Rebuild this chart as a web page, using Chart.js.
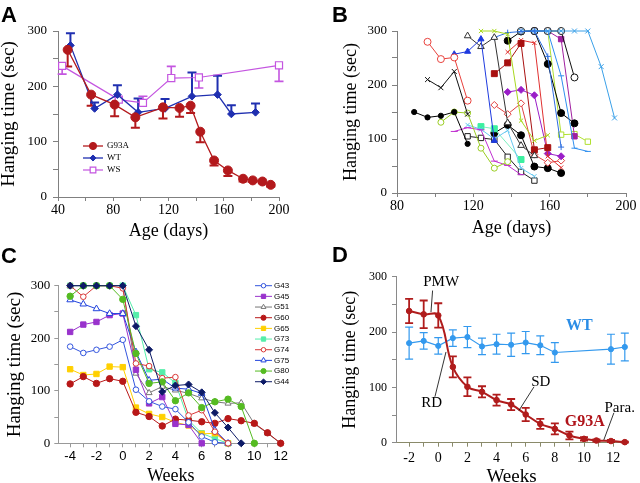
<!DOCTYPE html>
<html><head><meta charset="utf-8">
<script src="https://cdn.jsdelivr.net/npm/chart.js@4.4.1/dist/chart.umd.min.js"></script>
<style>
html,body{margin:0;padding:0;background:#fff;}
body{width:640px;height:483px;position:relative;overflow:hidden;}
canvas{position:absolute;}
.pl{position:absolute;font-family:"Liberation Sans",Arial,sans-serif;font-weight:bold;font-size:22px;line-height:22px;color:#000;}
</style></head><body>
<canvas id="cA" width="320" height="240" style="left:0;top:0"></canvas>
<canvas id="cB" width="320" height="240" style="left:320px;top:0"></canvas>
<canvas id="cC" width="320" height="243" style="left:0;top:240px"></canvas>
<canvas id="cD" width="320" height="243" style="left:320px;top:240px"></canvas>
<div class="pl" style="left:1px;top:4px">A</div>
<div class="pl" style="left:332px;top:4px">B</div>
<div class="pl" style="left:1px;top:245px">C</div>
<div class="pl" style="left:332px;top:244px">D</div>
<script>
// ---------------- Panel A data ----------------
const aG93aDays = [47,64,81,96,116,128,136,143,153,163,174,181,188,194];
const aG93a     = [266,185,167,144,162,161,165,118,66,48,33,30,28,22];
const aG93aErr  = [30,20,21,19,20,16,13,19,9,10,5,3,3,3];          // drawn downward
const aWtDays   = [49,66.5,83,98,117.5,137,155.5,165.5,183];
const aWt       = [274,160,185,153,160,182,185,150,153];
const aWtErr    = [22,11,17,25,17,43,34,16,16];                    // drawn upward
const aWsDays   = [43,84,101.5,122,142,200];
const aWs       = [237,176,170,215,216,238];
const aWsErr    = [-15,0,12,21,-19,-29];                           // sign = direction
const aXTicks   = [40,60,80,100,120,140,160,180,200];
const aXLabels  = [40,80,120,160,200];
const yTicks    = [0,50,100,150,200,250,300];
const yLabels   = [0,100,200,300];

// ---------------- Panel B data ----------------
const bDays = [89,96,103,110,117,124,131,138,145,152,159,166,173,180,187,194];
const _ = null;
const b01 = [150,140,143,150,91,_,_,_,_,_,_,_,_,_,_,_];
const b02 = [_,210,195,225,146,_,_,_,_,_,_,_,_,_,_,_];
const b03 = [_,280,248,251,171,_,_,_,_,_,_,_,_,_,_,_];
const b04 = [_,_,131,150,148,83,46,58,_,_,_,_,_,_,_,_];
const b05 = [_,_,_,257,262,285,97,_,_,_,_,_,_,_,_,_];
const b06 = [_,_,_,114,121,117,59,51,34,_,_,_,_,_,_,_];
const b07 = [_,_,_,_,126,118,100,116,46,31,_,_,_,_,_,_];
const b08 = [_,_,_,_,105,102,99,67,39,23,_,_,_,_,_,_];
const b09 = [_,_,_,_,291,271,288,130,88,69,_,_,_,_,_,_];
const b10 = [_,_,_,_,_,300,300,294,134,97,107,_,_,_,_,_];
const b11 = [_,_,_,_,_,_,288,297,299,300,253,85,_,_,_,_];
const b12 = [_,_,_,_,_,_,_,_,_,300,300,217,83,77,_,_];
const b13 = [_,_,_,_,_,_,_,_,300,300,300,300,300,300,234,139];
const b14 = [_,_,_,_,_,_,_,_,300,300,300,300,214,_,_,_];
const b15 = [_,_,_,_,_,_,_,282,299,300,239,148,129,_,_,_];
const b16 = [_,_,_,_,_,_,221,241,277,80,84,_,_,_,_,_];
const b17 = [_,_,_,_,_,_,_,261,283,278,68,47,_,_,_,_];
const b18 = [_,_,_,_,_,_,_,187,191,181,73,68,_,_,_,_];
const b19 = [_,_,_,_,_,_,163,146,166,71,56,60,_,_,_,_];
const b20 = [_,_,_,_,_,_,_,_,_,300,300,285,105,_,_,_];
const b21 = [_,_,_,_,_,_,_,_,_,_,300,108,109,95,_,_];
const b22 = [_,_,_,_,_,123,119,_,62,_,_,_,_,_,_,_];
const b23 = [_,_,_,_,_,_,111,126,107,49,46,37,_,_,_,_];
const bXTicks  = [80,100,120,140,160,180,200];
const bXLabels = [80,120,160,200];

// ---------------- Panel C data ----------------
const cWeeks = [-4,-3,-2,-1,0,1,2,3,4,5,6,7,8,9,10,11,12];
const cNames = ['G43','G45','G51','G60','G65','G73','G74','G75','G80','G44'];
const cG43 = [184,172,178,184,197,102,80,70,65,40,13,2,0];
const cG45 = [212,226,231,244,247,140,76,88,37,35,0];
const cG51 = [300,300,300,300,300,133,96,108,101,95,86,79,76,77,37,19,0];
const cG60 = [113,127,114,123,118,59,51,33,46,44,41,38,47,43,38,20,0];
const cG65 = [141,130,132,146,145,68,56,50,40,34,18,19,0];
const cG73 = [300,300,300,300,300,244,141,135,115,44,19,9,0];
const cG74 = [300,279,300,300,295,152,147,124,126,53,63,22,0];
const cG75 = [273,265,256,247,247,174,120,122,105,103,95,25,0];
const cG80 = [280,300,300,300,274,171,114,117,81,96,68,79,84,70,0];
const cG44 = [300,300,300,300,300,223,178,98,110,112,97,58,30,0];
const cXTicks  = [-4,-3,-2,-1,0,1,2,3,4,5,6,7,8,9,10,11,12];
const cXLabels = [-4,-2,0,2,4,6,8,10,12];

// ---------------- Panel D data ----------------
const dG93aWeeks = [-2,-1,0,1,2,3,4,5,6,7,8,9,10,10.85,11.85,12.8];
const dG93a      = [238,232,230,137,101,92,77,69,51,34,25,13,7,4,3,1];
const dG93aErr   = [22,25,22,19,17,10,10,10,12,9,10,7,3,2,2,1];
const dWtWeeks   = [-2,-1,0,1,2,3,4,5,6,7,8,11.85,12.8];
const dWt        = [180,184,175,189,191,174,178,177,181,176,163,169,173];
const dWtErr     = [29,15,15,15,19,15,18,21,20,17,18,27,25];
const dXTicks    = [-2,-1,0,1,2,3,4,5,6,7,8,9,10,11,12];
const dXLabels   = [-2,0,2,4,6,8,10,12];
const dNotes = [
  {text:'PMW', x:0.2, y:291, from:[-0.39,275], to:[-0.5,236]},
  {text:'RD', x:-0.46, y:72, from:[-0.23,83], to:[0.53,164]},
  {text:'SD', x:7.03, y:110, from:[6.57,101], to:[5.53,58]},
  {text:'Para.', x:12.45, y:62, from:[12.05,54], to:[11.36,5]},
  {text:'WT', x:9.68, y:212, bold:true, color:'#2b8de6', size:16},
  {text:'G93A', x:10.05, y:38, bold:true, color:'#b0141a', size:16}
];

// ---------------- helpers ----------------
const SERIF = '"Liberation Serif","Times New Roman",serif';
const SANS = '"Liberation Sans",Arial,sans-serif';
const pts = (xs, ys) => xs.map((x,i)=>({x:x, y:ys[i]})).filter(p=>p.y!==null && p.y!==undefined);

function marker(ctx, style, x, y, r, fill, stroke, bw){
  ctx.save(); ctx.beginPath(); ctx.lineWidth=bw; ctx.strokeStyle=stroke; ctx.fillStyle=fill;
  if(style==='circle'){ ctx.arc(x,y,r,0,Math.PI*2); }
  else if(style==='rect'){ const s=r*Math.SQRT1_2; ctx.rect(x-s,y-s,2*s,2*s); }
  else if(style==='rectRot'){ ctx.moveTo(x,y-r);ctx.lineTo(x+r,y);ctx.lineTo(x,y+r);ctx.lineTo(x-r,y);ctx.closePath(); }
  else if(style==='triangle'){ ctx.moveTo(x,y-r);ctx.lineTo(x+r*0.866,y+r*0.5);ctx.lineTo(x-r*0.866,y+r*0.5);ctx.closePath(); }
  ctx.fill(); if(bw>0) ctx.stroke(); ctx.restore();
}

const errorBars = {
  id:'errorBars',
  beforeDatasetsDraw(chart){
    const ctx=chart.ctx, xs=chart.scales.x, ys=chart.scales.y;
    chart.data.datasets.forEach(ds=>{
      if(!ds.errors) return;
      ctx.save(); ctx.strokeStyle=ds.errColor||ds.borderColor; ctx.lineWidth=ds.errWidth||1.5;
      ds.data.forEach((p,i)=>{
        const e=ds.errors[i]; if(!e) return;
        const px=xs.getPixelForValue(p.x), py=ys.getPixelForValue(p.y);
        const ends = ds.errBoth ? [p.y+e, p.y-e] : [p.y+e];
        const cw = ds.errCap||4;
        ends.forEach(v=>{
          const ey=ys.getPixelForValue(v);
          ctx.beginPath(); ctx.moveTo(px,py); ctx.lineTo(px,ey);
          ctx.moveTo(px-cw,ey); ctx.lineTo(px+cw,ey); ctx.stroke();
        });
      });
      ctx.restore();
    });
  }
};

const miniLegend = {
  id:'miniLegend',
  afterDatasetsDraw(chart, args, o){
    if(!o || !o.show) return;
    const ctx=chart.ctx;
    chart.data.datasets.forEach((ds,i)=>{
      const y=o.y+i*o.step;
      ctx.save(); ctx.strokeStyle=ds.borderColor; ctx.lineWidth=ds.borderWidth||1;
      ctx.beginPath(); ctx.moveTo(o.x,y); ctx.lineTo(o.x+o.len,y); ctx.stroke(); ctx.restore();
      marker(ctx, ds.pointStyle, o.x+o.len/2, y, (ds.pointRadius||3)*(o.scale||1), ds.pointBackgroundColor||ds.backgroundColor, ds.borderColor, ds.pointBorderWidth||1);
      ctx.save(); ctx.fillStyle='#000'; ctx.font=o.font; ctx.textBaseline='middle'; ctx.textAlign='left';
      ctx.fillText(ds.label, o.x+o.len+o.gap, y); ctx.restore();
    });
  }
};

const notes = {
  id:'notes',
  afterDatasetsDraw(chart, args, o){
    if(!o || !o.items) return;
    const ctx=chart.ctx, xs=chart.scales.x, ys=chart.scales.y;
    o.items.forEach(n=>{
      ctx.save();
      if(n.from){
        ctx.strokeStyle='#000'; ctx.lineWidth=0.8; ctx.beginPath();
        ctx.moveTo(xs.getPixelForValue(n.from[0]), ys.getPixelForValue(n.from[1]));
        ctx.lineTo(xs.getPixelForValue(n.to[0]), ys.getPixelForValue(n.to[1])); ctx.stroke();
      }
      ctx.fillStyle=n.color||'#000';
      ctx.font=(n.bold?'bold ':'')+(n.size||15)+'px '+SERIF;
      ctx.textAlign='center'; ctx.textBaseline='middle';
      ctx.fillText(n.text, xs.getPixelForValue(n.x), ys.getPixelForValue(n.y));
      ctx.restore();
    });
  }
};

function xAxis(o){
  return {
    type:'linear', min:o.min, max:o.max,
    afterFit:s=>{s.height=o.h;},
    afterBuildTicks:s=>{s.ticks=o.ticks.map(v=>({value:v}));},
    ticks:{autoSkip:false, maxRotation:0, minRotation:0, padding:o.pad, color:'#000',
      font:{family:o.tickFamily||SERIF, size:o.tickSize||13},
      callback:v=>o.labels.includes(v)?String(v):''},
    grid:{display:true, drawOnChartArea:false, drawTicks:true, tickLength:o.tl||4, color:o.axisColor||'#808080'},
    border:{display:true, color:o.axisColor||'#808080', width:1},
    title:{display:true, text:o.title, color:'#000', font:{family:SERIF, size:o.titleSize||18, lineHeight:o.titleLH||1}, padding:{top:0,bottom:o.titlePad||0}}
  };
}
function yAxis(o){
  return {
    type:'linear', min:0, max:300,
    afterFit:s=>{s.width=o.w;},
    afterBuildTicks:s=>{s.ticks=yTicks.map(v=>({value:v}));},
    ticks:{autoSkip:false, padding:o.pad, color:'#000',
      font:{family:SERIF, size:o.tickSize||13},
      callback:v=>yLabels.includes(v)?String(v):''},
    grid:{display:true, drawOnChartArea:false, drawTicks:true, tickLength:o.tl||5, color:o.axisColor||'#808080'},
    border:{display:true, color:o.axisColor||'#808080', width:1},
    title:{display:true, text:'Hanging time (sec)', color:'#000', font:{family:SERIF, size:o.titleSize||19, lineHeight:1}, padding:{top:o.titlePad||0,bottom:0}}
  };
}
function baseOptions(pad, scales, plugins){
  return {
    responsive:false, animation:false, events:[],
    layout:{padding:pad},
    datasets:{line:{clip:false}},
    scales:scales,
    plugins:Object.assign({legend:{display:false}, tooltip:{enabled:false}}, plugins||{})
  };
}
function ds(label, xs, ys, color, style, r, fill, extra){
  return Object.assign({label:label, data:pts(xs,ys), borderColor:color, backgroundColor:fill||color,
    pointBackgroundColor:fill||color, pointBorderColor:color, pointStyle:style, pointRadius:r,
    pointBorderWidth:1, borderWidth:1, tension:0, spanGaps:false}, extra||{});
}

// ---------------- Chart A ----------------
new Chart(document.getElementById('cA'), {
  type:'line',
  data:{datasets:[
    ds('G93A', aG93aDays, aG93a, '#b3191c', 'circle', 4.5, null, {borderWidth:1.3, errors:aG93aErr.map(e=>-e), errWidth:2, errCap:4.5}),
    ds('WT', aWtDays, aWt, '#1f2fb0', 'rectRot', 3.8, null, {borderWidth:1.3, errors:aWtErr, errWidth:2, errCap:4.5}),
    ds('WS', aWsDays, aWs, '#c455e0', 'rect', 5, '#ffffff', {borderWidth:1.2, pointBorderWidth:1.2, errors:aWsErr, errWidth:1.6, errCap:4.5})
  ]},
  options:baseOptions({left:0,top:31,right:41,bottom:0},
    {x:xAxis({min:40,max:200,h:43,ticks:aXTicks,labels:aXLabels,pad:1,title:'Age (days)',titleSize:18,tickSize:14}),
     y:yAxis({w:58,pad:6,tl:5,titleSize:19})},
    {miniLegend:{show:true,x:83,y:146,step:12,len:20,gap:4,font:'9px '+SERIF,scale:0.8}}),
  plugins:[errorBars, miniLegend]
});

// ---------------- Chart B ----------------
const bSets = [
  ds('b01', bDays, b01, '#000000', 'circle', 2.6),
  ds('b02', bDays, b02, '#111111', 'crossRot', 3.5),
  ds('b03', bDays, b03, '#e8413c', 'circle', 3.5, '#ffffff'),
  ds('b04', bDays, b04, '#9acd22', 'circle', 3, '#ffffff'),
  ds('b05', bDays, b05, '#1e3adf', 'triangle', 3.5),
  ds('b06', bDays, b06, '#c030d0', 'line', 3.5),
  ds('b07', bDays, b07, '#66c8f0', 'crossRot', 3),
  ds('b08', bDays, b08, '#222222', 'rect', 3.8, '#ffffff'),
  ds('b09', bDays, b09, '#333333', 'triangle', 3.8, '#ffffff'),
  ds('b10', bDays, b10, '#a8d820', 'crossRot', 3),
  ds('b11', bDays, b11, '#2f6fe0', 'cross', 3),
  ds('b12', bDays, b12, '#2f8fef', 'line', 3),
  ds('b13', bDays, b13, '#3aa0e8', 'crossRot', 3.5),
  ds('b14', bDays, b14, '#111111', 'circle', 3.5, '#ffffff'),
  ds('b15', bDays, b15, '#000000', 'circle', 3.5),
  ds('b16', bDays, b16, '#a81010', 'rect', 4.2),
  ds('b17', bDays, b17, '#e03030', 'crossRot', 3),
  ds('b18', bDays, b18, '#9a1ec8', 'rectRot', 3.5),
  ds('b19', bDays, b19, '#e04040', 'rectRot', 3.5, '#ffffff'),
  ds('b20', bDays, b20, '#a020a0', 'rect', 3.8),
  ds('b21', bDays, b21, '#b0e030', 'rect', 3.8, '#ffffff'),
  ds('b22', bDays, b22, '#3cf0a0', 'rect', 4.2, null, {spanGaps:true, borderColor:'#7cf0c0'}),
  ds('b23', bDays, b23, '#000000', 'circle', 3.5)
];
new Chart(document.getElementById('cB'), {
  type:'line',
  data:{datasets:bSets},
  options:baseOptions({left:0,top:31,right:14,bottom:0},
    {x:xAxis({min:80,max:200,h:47,ticks:bXTicks,labels:bXLabels,pad:1,title:'Age (days)',titleSize:18,titlePad:3,tickSize:14}),
     y:yAxis({w:77,pad:5,tl:5,titleSize:18,titlePad:22})}),
  plugins:[]
});

// ---------------- Chart C ----------------
const cStyle = [
  ['#3355dd','circle',2.8,'#ffffff',5],
  ['#9933cc','rect',3.8,null,5],
  ['#777777','triangle',3.5,'#ffffff',6],
  ['#b81818','circle',3.2,null,5],
  ['#ffd000','rect',3.8,null,5],
  ['#55eeaa','rect',3.8,null,7],
  ['#d83838','circle',2.8,'#ffffff',3],
  ['#2244dd','triangle',3.8,'#ffffff',4],
  ['#55bb22','circle',3.2,null,2],
  ['#0c1a66','rectRot',3.5,null,1]
];
const cVals = [cG43,cG45,cG51,cG60,cG65,cG73,cG74,cG75,cG80,cG44];
new Chart(document.getElementById('cC'), {
  type:'line',
  data:{datasets:cNames.map((n,i)=>ds(n, cWeeks, cVals[i], cStyle[i][0], cStyle[i][1], cStyle[i][2], cStyle[i][3], {order:cStyle[i][4]}))},
  options:baseOptions({left:0,top:45.7,right:36.7,bottom:0},
    {x:xAxis({min:-4.9,max:12.2,h:39.7,ticks:cXTicks,labels:cXLabels,pad:1,title:'Weeks',titleSize:18,titleLH:0.78,tickFamily:SANS,tickSize:13,axisColor:'#999'}),
     y:yAxis({w:58.3,pad:4,tl:4,titleSize:19,titlePad:5.5,axisColor:'#999'})},
    {miniLegend:{show:true,x:255,y:45.7,step:10.67,len:17,gap:2,font:'8px '+SANS,scale:0.8}}),
  plugins:[miniLegend]
});

// ---------------- Chart D ----------------
new Chart(document.getElementById('cD'), {
  type:'line',
  data:{datasets:[
    ds('G93A', dG93aWeeks, dG93a, '#b01c1c', 'circle', 2.8, null, {borderWidth:2, tension:0.4, errors:dG93aErr, errBoth:true, errWidth:1.8, errCap:4}),
    ds('WT', dWtWeeks, dWt, '#3399ee', 'circle', 2.6, null, {borderWidth:1.2, errors:dWtErr, errBoth:true, errWidth:1.2, errCap:4})
  ]},
  options:baseOptions({left:0,top:36.7,right:13,bottom:0},
    {x:xAxis({min:-2.9,max:12.95,h:40.3,ticks:dXTicks,labels:dXLabels,pad:3,title:'Weeks',titleSize:19,titleLH:0.63,tickSize:14,axisColor:'#8a8a6a'}),
     y:yAxis({w:76,pad:5,tl:4,titleSize:18,titlePad:21,tickSize:12,axisColor:'#8a8a8a'})},
    {notes:{items:dNotes}}),
  plugins:[errorBars, notes]
});
</script>
</body></html>
